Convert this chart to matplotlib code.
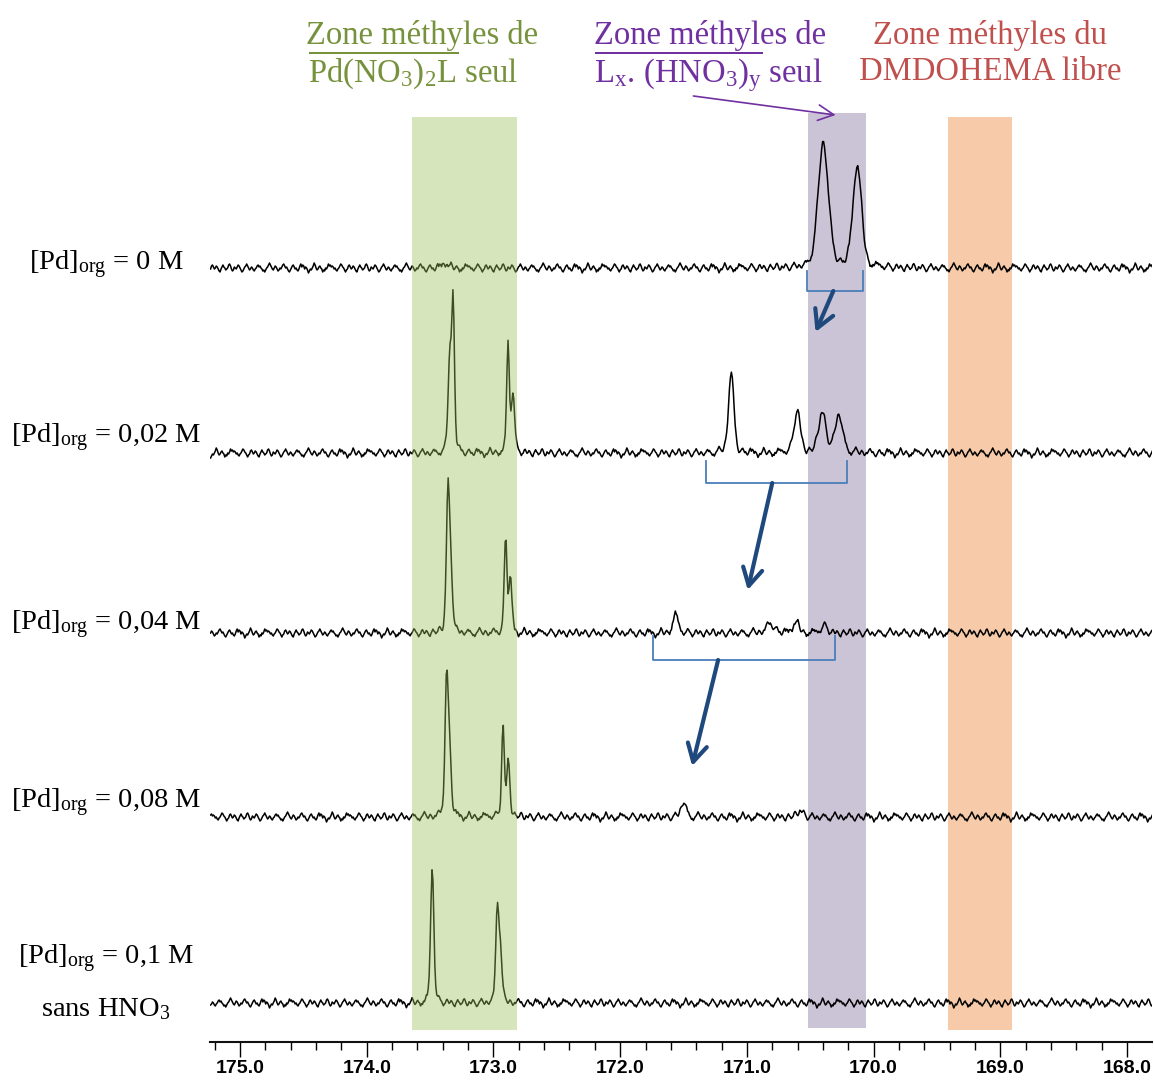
import matplotlib.pyplot as plt
from matplotlib.ticker import MultipleLocator, FormatStrFormatter
import numpy as np

plt.rcParams['mathtext.fontset'] = 'custom'
plt.rcParams['mathtext.rm'] = 'Liberation Serif'
plt.rcParams['mathtext.it'] = 'Liberation Serif:italic'
plt.rcParams['mathtext.bf'] = 'Liberation Serif:bold'

# ---- data -------------------------------------------------------------
sample_labels = [r'[Pd]$_{\mathrm{org}}$ = 0 M',
                 r'[Pd]$_{\mathrm{org}}$ = 0,02 M',
                 r'[Pd]$_{\mathrm{org}}$ = 0,04 M',
                 r'[Pd]$_{\mathrm{org}}$ = 0,08 M',
                 r'[Pd]$_{\mathrm{org}}$ = 0,1 M']
extra_label = r'sans HNO$_3$'

# peaks of each spectrum: (shift ppm, intensity, fwhm ppm)
peaks_0 = [(173.38, 6, 0.05), (170.397, 125, 0.095), (170.129, 103, 0.08)]
peaks_002 = [(173.318, 150, 0.025), (173.345, 95, 0.03),
             (172.885, 108, 0.025), (172.846, 60, 0.03),
             (171.124, 80, 0.05), (170.603, 42, 0.06),
             (170.405, 40, 0.07), (170.274, 38, 0.07)]
peaks_004 = [(173.359, 140, 0.03), (173.335, 55, 0.03),
             (172.904, 96, 0.025), (172.867, 52, 0.03),
             (171.564, 18, 0.05), (170.814, 9, 0.08),
             (170.616, 11, 0.06), (170.387, 7, 0.06)]
peaks_008 = [(173.370, 138, 0.03), (173.345, 58, 0.03),
             (172.925, 90, 0.025), (172.883, 55, 0.03),
             (171.501, 15, 0.05), (170.577, 6, 0.06)]
peaks_01 = [(173.483, 136, 0.03), (172.970, 92, 0.028), (172.946, 52, 0.03)]
all_peaks = [peaks_0, peaks_002, peaks_004, peaks_008, peaks_01]

# baseline noise texture (intensity units)
noise_pts = [1, 3, 2, 4, 1, -1, 0, -3, -2, -4, -1, 0, 2, 1, -1, -2, 0, 3, 5, 2,
             0, -2, -1, -3, -5, -2, 0, 1, -1, 2, 3, 1, 4, 2, -1, -3, -2, 0, -1, 1,
             3, 2, 0, -2, -4, -3, -1, 1, 0, 2, 4, 3, 1, -1, 0, -2, -3, -1, 1, 2,
             0, -2, -1, 1, 3, 5, 3, 1, 0, -2, -4, -2, -3, -1, 0, 2, 1, 3, 2, 0,
             -1, -3, -2, 0, 1, -1, -2, 0, 2, 4, 2, 1, -1, -3, -4, -2, 0, 2, 3, 1,
             -1, 0, 1, -2, -3, -1, 2, 4, 3, 0, -1, -2, 0, 1, 3, 1, -1, -4, -3, -1,
             1, 2, 0, -1, 1, 3, 2, -1, -2, -4, -2, 0, 1, 3, 4, 2, 0, -1, -3, -2,
             0, -1, 1, 2]
noise_start = [0, 41, 77, 19, 103]

# zones (ppm ranges)
zone_green = (173.64, 172.815)
zone_purple = (170.52, 170.06)
zone_orange = (169.415, 168.905)

# brackets under the spectra (ppm range)
bracket_ranges = [(170.529, 170.087), (171.319, 170.208), (171.740, 170.308)]

# ---- layout -----------------------------------------------------------
W, H = 1154, 1084
offsets = [774, 589, 409, 225, 39]
bracket_tops = [771, 581, 406]
bracket_bottoms = [751, 559, 382]
arrows = [((170.318, 751), (170.458, 710)),
          ((170.800, 559), (170.993, 452)),
          ((171.227, 382), (171.432, 276))]

green_t = '#76923c'
purple_t = '#7030a0'
red_t = '#c0504d'
bracket_c = '#4a7ebb'
arrow_c = '#1f497d'

fig = plt.figure(figsize=(W / 100, H / 100), dpi=100)
ax = fig.add_axes([210 / W, 42 / H, 942 / W, 1042 / H])
ax.set_xlim(175.237, 167.803)
ax.set_ylim(0, 1042)
ax.patch.set_alpha(0)


def spectrum(x, peaks):
    y = np.zeros_like(x)
    for x0, h, w in peaks:
        d = (x - x0) / (w / 2)
        y += h * (0.3 / (1 + d ** 2) + 0.7 * np.exp(-np.log(2) * d ** 2))
    return y


x = np.arange(167.80, 175.24, 0.0075)
noise = np.array(noise_pts, dtype=float)
for i, peaks in enumerate(all_peaks):
    idx = (np.arange(len(x)) + noise_start[i]) % len(noise)
    y = spectrum(x, peaks) + noise[idx] + offsets[i]
    ax.plot(x, y, color='black', lw=1.1, zorder=3)

# zones
ax.axvspan(*zone_purple, ymin=14 / 1042, ymax=929 / 1042, color='#cbc3d6', lw=0, zorder=1)
ax.axvspan(*zone_orange, ymin=12 / 1042, ymax=925 / 1042, color='#f7cbaa', lw=0, zorder=1)
ax.axvspan(*zone_green, ymin=12 / 1042, ymax=925 / 1042, color=(0.60, 0.75, 0.34),
           alpha=0.4, lw=0, zorder=4)

# brackets and arrows
for (a, b), top, bot in zip(bracket_ranges, bracket_tops, bracket_bottoms):
    ax.plot([a, a, b, b], [top, bot, bot, top], color=bracket_c, lw=1.3, zorder=5)
for start, end in arrows:
    ax.annotate('', xy=end, xytext=start,
                arrowprops=dict(arrowstyle='->,head_length=0.9,head_width=0.5',
                                lw=3, color=arrow_c, shrinkA=0, shrinkB=0,
                                mutation_scale=14), zorder=6)
ax.annotate('', xy=(170.300, 927), xytext=(171.422, 946),
            arrowprops=dict(arrowstyle='->,head_length=0.8,head_width=0.4',
                            lw=1.2, color=purple_t, shrinkA=0, shrinkB=0,
                            mutation_scale=14), zorder=6)

# axis
for s in ['left', 'right', 'top']:
    ax.spines[s].set_visible(False)
ax.spines['bottom'].set_linewidth(1.5)
ax.spines['bottom'].set_color('#111111')
ax.set_yticks([])
ax.xaxis.set_major_locator(MultipleLocator(1.0))
ax.xaxis.set_minor_locator(MultipleLocator(0.2))
ax.xaxis.set_major_formatter(FormatStrFormatter('%.1f'))
ax.tick_params(axis='x', which='major', direction='out', length=11, width=1, pad=2)
ax.tick_params(axis='x', which='minor', direction='out', length=6, width=1)
for lab in ax.get_xticklabels():
    lab.set_family(['Liberation Sans Narrow', 'Liberation Sans'])
    lab.set_fontweight('bold')
    lab.set_fontsize(14)

# sample labels
label_base = [270, 443, 630, 808, 964]
for lab, yb in zip(sample_labels, label_base):
    fig.text(106 / W, 1 - yb / H, lab, ha='center', va='baseline',
             fontsize=20.5, family='Liberation Serif')
fig.text(106 / W, 1 - 1016 / H, extra_label, ha='center', va='baseline',
         fontsize=20.5, family='Liberation Serif')

# zone titles
tkw = dict(va='baseline', fontsize=23.5, family='Liberation Serif')
fig.text(422 / W, 1 - 44 / H, 'Zone méthyles de', ha='center', color=green_t, **tkw)
fig.text(308 / W, 1 - 82 / H, r'$\overline{\mathrm{Pd(NO_3)_2L}}$ seul', ha='left',
         color=green_t, **tkw)
fig.text(710 / W, 1 - 44 / H, 'Zone méthyles de', ha='center', color=purple_t, **tkw)
fig.text(594 / W, 1 - 82 / H, r'$\overline{\mathrm{L_x.\,(HNO_3)_y}}$ seul', ha='left',
         color=purple_t, **tkw)
fig.text(990 / W, 1 - 44 / H, 'Zone méthyles du', ha='center', color=red_t, **tkw)
fig.text(990 / W, 1 - 80 / H, 'DMDOHEMA libre', ha='center', color=red_t, **tkw)

fig.savefig('out.png', dpi=100)
